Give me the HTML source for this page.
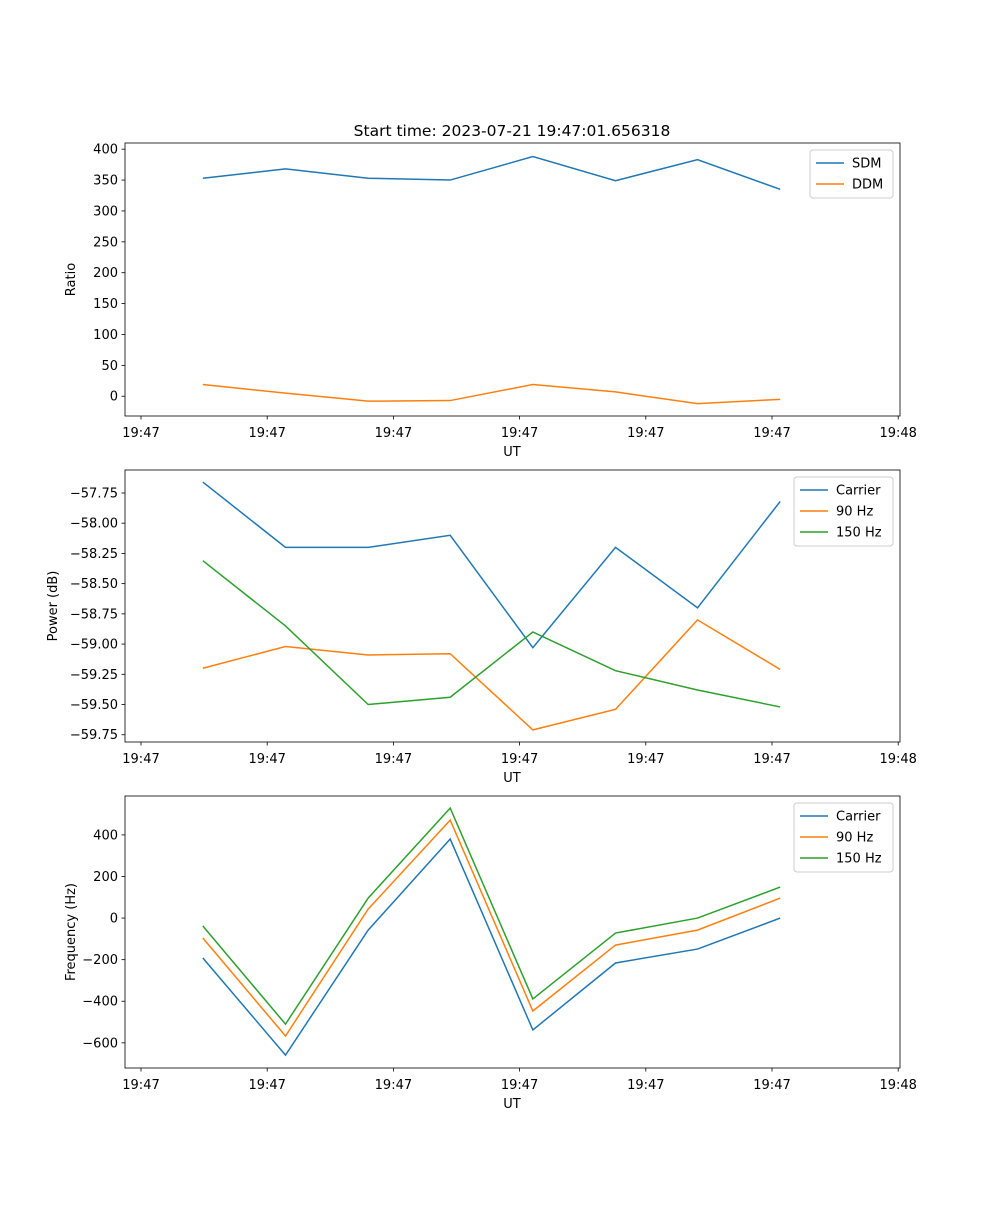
<!DOCTYPE html>
<html><head><meta charset="utf-8"><style>
body{margin:0;background:#fff;font-family:"Liberation Sans","DejaVu Sans",sans-serif}
svg text{font-family:"DejaVu Sans","Liberation Sans",sans-serif;font-size:13px;fill:#000}
</style></head><body>
<svg id="fig" width="1000" height="1200"></svg>
<script>
const tickSecs=[0,1,2,3,4,5,6];
const tickLabels=["19:47","19:47","19:47","19:47","19:47","19:47","19:48"];
const times=[0.49,1.145,1.8,2.45,3.105,3.76,4.41,5.065];
const sdm=[353,368,353,350,388,349,383,335];
const ddm=[19,5,-8,-7,19,7,-12,-5];
const pCarrier=[-57.66,-58.20,-58.20,-58.10,-59.03,-58.20,-58.70,-57.82];
const p90=[-59.20,-59.02,-59.09,-59.08,-59.71,-59.54,-58.80,-59.21];
const p150=[-58.31,-58.85,-59.50,-59.44,-58.90,-59.22,-59.38,-59.52];
const fCarrier=[-192,-659,-58,380,-538,-216,-149,0];
const f90=[-96,-567,43,471,-447,-130,-58,96];
const f150=[-38,-510,96,529,-389,-72,0,149];
const ticks1=[0,50,100,150,200,250,300,350,400];
const ticks2=[-57.75,-58.00,-58.25,-58.50,-58.75,-59.00,-59.25,-59.50,-59.75];
const ticks3=[-600,-400,-200,0,200,400];

const NS="http://www.w3.org/2000/svg";
const svg=document.getElementById('fig');
function mk(t,a,p){const e=document.createElementNS(NS,t);for(const k in a)e.setAttribute(k,a[k]);(p||svg).appendChild(e);return e;}
const X0=125,X1=900;
const xs=t=>141+t*126.2;
const C=["#1f77b4","#ff7f0e","#2ca02c"];

function panel(name,top,bot,ymin,ymax,yt,fmt,ylabel,series,labels,legW,legX,title){
  const g=mk('g',{});
  
  
  const ys=v=>bot-(v-ymin)/(ymax-ymin)*(bot-top);
  series.forEach((s,i)=>{
    const pl=mk('polyline',{points:s.map((v,j)=>xs(times[j])+','+ys(v)).join(' '),fill:'none',stroke:C[i],'stroke-width':1.5},g);
    
    
  });
  mk('rect',{x:X0,y:top,width:X1-X0,height:bot-top,fill:'none',stroke:'#000','stroke-width':0.8},g);
  tickSecs.forEach((t,i)=>{
    mk('line',{x1:xs(t),x2:xs(t),y1:bot,y2:bot+3.5,stroke:'#000','stroke-width':0.8},g);
    const tx=mk('text',{x:xs(t),y:bot+21,'text-anchor':'middle'},g);tx.textContent=tickLabels[i];
    
    
  });
  yt.forEach(v=>{
    mk('line',{x1:X0,x2:X0-3.5,y1:ys(v),y2:ys(v),stroke:'#000','stroke-width':0.8},g);
    const tx=mk('text',{x:X0-7,y:ys(v)+4.5,'text-anchor':'end'},g);tx.textContent=fmt(v);
    
    
  });
  const xl=mk('text',{x:512,y:bot+40,'text-anchor':'middle'},g);xl.textContent='UT';
  
  
  const yx=X0-(fmt(yt[yt.length-1]).length>5?68:50);
  const yl=mk('text',{x:yx,y:(top+bot)/2,'text-anchor':'middle',transform:`rotate(-90 ${yx} ${(top+bot)/2})`},g);yl.textContent=ylabel;
  
  
  if(title){const tt=mk('text',{x:512,y:top-7,'text-anchor':'middle'},g);tt.textContent=title;tt.style.fontSize='15.5px';
    
    }
  const lg=mk('g',{},g);
  
  
  const lh=labels.length*21+6;
  mk('rect',{x:legX,y:top+7,width:legW,height:lh,rx:3,fill:'#fff',stroke:'#ccc','stroke-width':1},lg);
  labels.forEach((l,i)=>{
    const yy=top+20+i*21;
    mk('line',{x1:legX+6,x2:legX+34,y1:yy,y2:yy,stroke:C[i],'stroke-width':1.5},lg);
    const t=mk('text',{x:legX+42,y:yy+4.5},lg);t.textContent=l;
    
    
  });
}
panel('ratio-panel',143,416,-32,410,ticks1,v=>String(v),'Ratio',[sdm,ddm],['SDM','DDM'],83,810,'Start time: 2023-07-21 19:47:01.656318');
panel('power-panel',470,742,-59.81,-57.56,ticks2,v=>'\u2212'+Math.abs(v).toFixed(2),'Power (dB)',[pCarrier,p90,p150],['Carrier','90 Hz','150 Hz'],99,794,null);
panel('frequency-panel',796,1068,-721,587,ticks3,v=>(v<0?'\u2212':'')+Math.abs(v),'Frequency (Hz)',[fCarrier,f90,f150],['Carrier','90 Hz','150 Hz'],99,794,null);
</script>
</body></html>
